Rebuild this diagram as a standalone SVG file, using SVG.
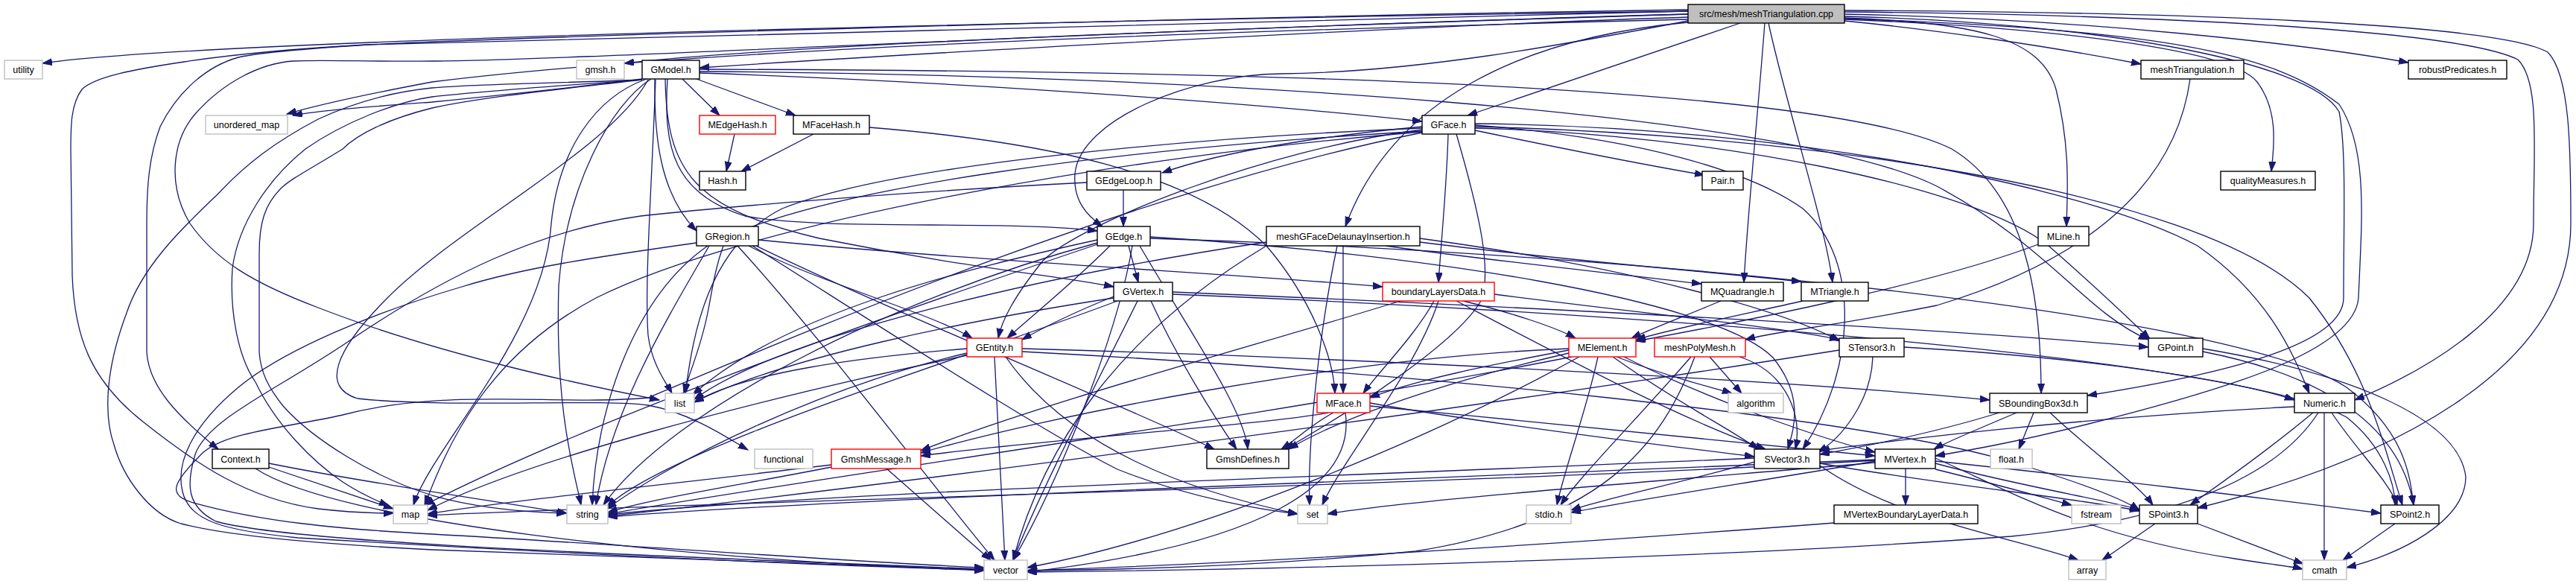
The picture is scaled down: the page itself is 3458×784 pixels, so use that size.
<svg xmlns="http://www.w3.org/2000/svg" width="3458" height="784" viewBox="0 0 3458 784">
<style>
.e{fill:none;stroke:#191970;stroke-width:1.3;marker-end:url(#ah)}
.n rect{fill:#fff;stroke:#000;stroke-width:1.4}
.x rect{fill:#fff;stroke:#bfbfbf;stroke-width:1.4}
.r rect{fill:#fff;stroke:#ff0000;stroke-width:1.4}
.root rect{fill:#bfbfbf;stroke:#000;stroke-width:1.4}
text{font-family:"Liberation Sans",Arial,sans-serif;font-size:12.5px;text-anchor:middle;fill:#000}
</style>
<defs>
<marker id="ah" markerUnits="userSpaceOnUse" markerWidth="14" markerHeight="10" refX="13" refY="4.5" orient="auto">
<path d="M0,0 L13,4.5 L0,9 Z" fill="#191970" stroke="#191970" stroke-width="1"/>
</marker>
</defs>
<rect width="3458" height="784" fill="#fff"/>
<g id="edges">
<path class="e" d="M2266,15 C1600,25 300,50 57,85"/>
<path class="e" d="M2266,19 C1900,30 1100,55 838,85"/>
<path class="e" d="M2266,23 C1900,35 1250,70 939,91"/>
<path class="e" d="M2266,26 C1500,45 900,70 580,110 C500,125 430,140 385,153"/>
<path class="e" d="M2266,15 C1500,30 800,50 493,60 C420,65 350,70 320,77 C280,88 240,120 215,170 C200,210 197,250 197,300 L197,473 C200,520 240,560 293,603"/>
<path class="e" d="M2266,19 C1500,40 800,80 580,82 C500,83 430,80 393,82 C350,85 300,110 262,153 C230,190 225,250 255,300 C290,350 340,380 427,413 C600,480 800,520 885,537"/>
<path class="e" d="M2266,13 C1500,25 700,50 493,60 C380,66 300,75 247,83 C180,93 127,103 110,120 C95,140 95,170 95,200 L97,370 C100,450 120,510 193,567 C260,620 330,670 427,683 C470,688 500,689 528,689"/>
<path class="e" d="M2266,28 C2100,60 1900,97 1720,99 C1600,100 1450,160 1443,233 C1440,270 1460,290 1480,304"/>
<path class="e" d="M2266,30 C2050,50 1870,130 1806,304"/>
<path class="e" d="M2336,31 L1970,155"/>
<path class="e" d="M2369,31 C2360,150 2345,300 2341,379"/>
<path class="e" d="M2374,31 C2400,150 2450,300 2460,379"/>
<path class="e" d="M2476,28 C2600,40 2750,62 2874,86"/>
<path class="e" d="M2476,19 C2800,25 3100,60 3233,84"/>
<path class="e" d="M2476,24 C2650,30 2740,50 2760,120 C2780,200 2775,260 2774,304"/>
<path class="e" d="M2476,26 C2700,35 2990,60 3030,110 C3060,150 3052,200 3049,230"/>
<path class="e" d="M2476,22 C2800,30 3100,80 3140,150 C3150,200 3146,300 3146,400 C3146,460 3000,500 2802,531"/>
<path class="e" d="M2476,16 C2900,20 3300,40 3380,80 C3410,110 3401,200 3401,300 C3401,420 3250,500 3161,537"/>
<path class="e" d="M2476,14 C2900,16 3350,30 3420,70 C3450,100 3451,200 3451,300 C3451,500 3200,620 2950,682"/>
<path class="e" d="M2476,25 C2900,40 3050,70 3140,140 C3180,200 3170,300 3166,400 C3160,470 3000,520 2800,570 C2700,595 2640,605 2598,612"/>
<path class="e" d="M862,106 C750,120 650,130 580,137 C500,143 430,148 393,155"/>
<path class="e" d="M916,106 L966,155"/>
<path class="e" d="M935,106 L1068,155"/>
<path class="e" d="M879,106 C878,180 885,260 935,310"/>
<path class="e" d="M896,106 C890,200 905,260 1000,290 C1100,310 1350,295 1473,310"/>
<path class="e" d="M893,106 C895,230 930,280 1100,320 C1300,360 1420,370 1495,385"/>
<path class="e" d="M939,98 C1300,110 1700,140 1909,163"/>
<path class="e" d="M868,106 C800,130 750,200 740,300 C730,450 580,600 555,678"/>
<path class="e" d="M874,106 C820,140 760,250 750,384 C745,550 770,630 780,678"/>
<path class="e" d="M862,107 C750,112 650,112 580,118 C520,124 470,140 427,160 C370,190 330,220 293,260 C240,310 190,360 170,420 C140,500 140,560 153,597 C165,640 200,690 243,703 C300,718 420,730 580,738 C900,752 1150,760 1321,765"/>
<path class="e" d="M862,107 C750,115 650,122 580,130 C530,137 460,165 410,200 C360,240 320,300 312,360 C308,420 320,480 343,513 C370,570 420,620 460,647 C480,660 500,670 522,679"/>
<path class="e" d="M862,107 C750,120 650,130 580,145 C520,160 480,180 460,200 C420,225 390,240 377,253 C355,275 348,300 348,340 L348,473 C350,500 360,520 380,545 C420,590 500,640 580,665 C650,685 720,688 760,689"/>
<path class="e" d="M880,107 C875,250 865,380 870,450 C875,490 895,515 902,528"/>
<path class="e" d="M939,96 C1600,100 2400,150 2600,250 C2750,330 2800,420 2884,456"/>
<path class="e" d="M939,93 C1700,95 2450,115 2620,200 C2720,260 2740,400 2740,528"/>
<path class="e" d="M870,107 C820,200 620,300 520,400 C450,470 430,520 480,535 C600,548 800,535 870,544 C930,555 980,590 1004,604"/>
<path class="e" d="M986,180 L975,230"/>
<path class="e" d="M1092,180 L995,230"/>
<path class="e" d="M1167,171 C1400,190 1600,230 1700,330 C1760,400 1790,480 1792,528"/>
<path class="e" d="M1909,170 C1800,180 1650,200 1560,232"/>
<path class="e" d="M1980,175 C2100,200 2200,220 2288,235"/>
<path class="e" d="M1944,180 C1942,250 1935,320 1931,379"/>
<path class="e" d="M1909,174 C1700,200 1450,300 1400,350 C1360,400 1345,430 1340,454"/>
<path class="e" d="M1909,172 C1600,185 1200,220 1050,280 C950,330 930,450 920,528"/>
<path class="e" d="M1909,176 C1500,200 1100,250 950,330 C850,400 800,550 795,678"/>
<path class="e" d="M1909,178 C1500,260 1000,480 870,534 C750,545 600,520 460,557 C380,575 300,580 270,610 C230,650 225,665 260,675 C350,700 450,710 580,717 C900,735 1150,755 1321,762"/>
<path class="e" d="M1909,177 C1500,210 1000,300 800,400 C650,480 600,600 570,678"/>
<path class="e" d="M1955,180 C1990,300 2000,360 1990,400 C1960,460 1800,560 1725,603"/>
<path class="e" d="M1980,172 C2300,180 2650,250 2750,330 C2830,400 2860,430 2886,455"/>
<path class="e" d="M1980,170 C2400,180 2950,250 3100,400 C3180,500 3200,600 3225,678"/>
<path class="e" d="M1980,168 C2200,185 2350,230 2420,280 C2500,350 2490,500 2420,603"/>
<path class="e" d="M1980,166 C2400,170 2800,250 2950,330 C3050,400 3080,480 3100,528"/>
<path class="e" d="M1508,255 L1508,304"/>
<path class="e" d="M1459,245 C1200,258 950,280 860,290 C720,310 600,370 480,450 C380,520 280,560 262,610 C250,650 250,680 290,700 C380,725 700,740 1321,764"/>
<path class="e" d="M1005,330 C1100,380 1250,420 1305,454"/>
<path class="e" d="M971,330 C960,360 957,384 950,420 C940,470 925,500 918,528"/>
<path class="e" d="M952,330 C900,420 820,550 800,678"/>
<path class="e" d="M935,326 C800,345 700,360 620,385 C500,420 380,470 320,520 C260,570 235,620 245,660 C255,700 300,712 400,722 C700,740 1100,760 1321,765"/>
<path class="e" d="M990,330 C1100,450 1250,650 1335,752"/>
<path class="e" d="M1018,322 C1300,350 1700,370 1856,385"/>
<path class="e" d="M1015,330 C1200,420 1500,540 1630,603"/>
<path class="e" d="M1010,330 C1200,450 1400,580 1500,630 C1600,670 1700,685 1742,690"/>
<path class="e" d="M1515,330 L1528,379"/>
<path class="e" d="M1490,330 C1440,380 1390,420 1352,454"/>
<path class="e" d="M1473,322 C1300,360 1050,420 930,530"/>
<path class="e" d="M1473,326 C1200,400 900,550 810,678"/>
<path class="e" d="M1530,330 C1600,450 1670,550 1675,603"/>
<path class="e" d="M1544,318 C1900,340 2300,400 2380,480 C2420,530 2410,570 2400,603"/>
<path class="e" d="M1544,320 C2200,340 3000,420 3150,520 C3230,580 3235,640 3240,678"/>
<path class="e" d="M1520,330 C1500,450 1420,650 1360,752"/>
<path class="e" d="M1473,328 C1200,420 800,560 570,678"/>
<path class="e" d="M1495,398 C1440,420 1400,440 1372,456"/>
<path class="e" d="M1495,400 C1300,430 1050,480 932,540"/>
<path class="e" d="M1545,404 C1580,480 1630,560 1660,603"/>
<path class="e" d="M1527,404 C1480,500 1400,650 1360,752"/>
<path class="e" d="M1574,392 C2000,410 2600,440 2884,466"/>
<path class="e" d="M1574,395 C2200,420 3000,480 3150,560 C3200,600 3215,650 3215,678"/>
<path class="e" d="M1500,404 C1300,480 900,600 815,680"/>
<path class="e" d="M1906,325 C2100,350 2300,365 2418,378"/>
<path class="e" d="M1860,330 C2000,350 2150,365 2284,381"/>
<path class="e" d="M1803,330 L1803,528"/>
<path class="e" d="M1795,330 C1770,450 1755,600 1758,678"/>
<path class="e" d="M1700,325 C1400,370 1050,450 932,536"/>
<path class="e" d="M1700,330 C1500,450 1400,600 1360,752"/>
<path class="e" d="M1906,320 C2200,360 2400,420 2470,458"/>
<path class="e" d="M1964,404 C2030,420 2090,440 2115,454"/>
<path class="e" d="M1925,404 C1900,450 1850,500 1830,528"/>
<path class="e" d="M1931,404 C1900,500 1800,620 1775,678"/>
<path class="e" d="M1955,404 C2100,480 2250,560 2370,603"/>
<path class="e" d="M2006,395 C2200,420 2400,440 2469,456"/>
<path class="e" d="M1880,404 C1700,460 1400,540 1236,605"/>
<path class="e" d="M2310,404 C2260,425 2220,440 2190,454"/>
<path class="e" d="M2420,404 C2350,420 2250,440 2196,456"/>
<path class="e" d="M2736,328 C2600,380 2350,430 2196,458"/>
<path class="e" d="M2940,106 C2920,250 2800,350 2600,410 C2450,440 2380,445 2343,456"/>
<path class="e" d="M1298,468 C1150,480 1000,500 932,540"/>
<path class="e" d="M1335,479 L1349,752"/>
<path class="e" d="M1372,468 C1800,480 2400,510 2671,537"/>
<path class="e" d="M1372,472 C1900,500 2500,560 2700,620 C2800,650 2850,670 2872,685"/>
<path class="e" d="M1298,474 C1100,520 900,620 815,683"/>
<path class="e" d="M1350,479 C1420,580 1550,650 1742,690"/>
<path class="e" d="M1298,477 C1000,540 700,620 574,685"/>
<path class="e" d="M1190,629 L1330,752"/>
<path class="e" d="M1116,624 C900,650 700,670 574,690"/>
<path class="e" d="M1116,627 C1000,650 870,670 816,688"/>
<path class="e" d="M361,627 C430,650 490,670 528,683"/>
<path class="e" d="M361,622 C500,650 650,670 761,689"/>
<path class="e" d="M343,629 C450,700 900,750 1321,766"/>
<path class="e" d="M2106,470 C2000,490 1900,510 1839,534"/>
<path class="e" d="M2145,479 C2130,550 2100,630 2090,678"/>
<path class="e" d="M2170,479 C2250,510 2300,520 2325,528"/>
<path class="e" d="M2180,479 C2300,540 2450,590 2517,607"/>
<path class="e" d="M2165,479 C2250,540 2330,580 2360,603"/>
<path class="e" d="M2106,468 C1800,480 1400,560 1236,608"/>
<path class="e" d="M2106,474 C1950,510 1800,560 1730,603"/>
<path class="e" d="M2110,479 C1700,560 1100,640 816,690"/>
<path class="e" d="M2120,479 C1900,600 1600,720 1379,762"/>
<path class="e" d="M2295,479 L2338,528"/>
<path class="e" d="M2335,479 C2400,500 2420,560 2410,603"/>
<path class="e" d="M2270,479 C2200,560 2120,640 2095,678"/>
<path class="e" d="M2275,479 C2230,600 2150,700 1900,740 C1700,760 1500,765 1379,766"/>
<path class="e" d="M2514,479 C2512,540 2470,590 2440,607"/>
<path class="e" d="M2556,466 C2800,480 3000,510 3080,537"/>
<path class="e" d="M2469,470 C1900,560 1200,650 816,693"/>
<path class="e" d="M1839,545 C2100,570 2400,600 2517,612"/>
<path class="e" d="M1839,541 C2000,570 2250,600 2355,613"/>
<path class="e" d="M1806,554 C1820,650 1700,730 1379,768"/>
<path class="e" d="M1783,554 C1700,570 1400,590 1236,612"/>
<path class="e" d="M1790,554 C1760,570 1740,590 1720,603"/>
<path class="e" d="M2730,554 L2710,603"/>
<path class="e" d="M2752,554 C2800,600 2870,650 2890,678"/>
<path class="e" d="M2684,554 C2600,580 2500,600 2443,610"/>
<path class="e" d="M2707,554 C2670,570 2620,590 2596,603"/>
<path class="e" d="M3120,554 L3120,752"/>
<path class="e" d="M3130,554 C3160,600 3210,650 3218,678"/>
<path class="e" d="M3105,554 C3050,600 2980,650 2940,678"/>
<path class="e" d="M3080,546 C2800,560 2550,590 2443,605"/>
<path class="e" d="M3112,554 C3050,650 2900,700 2700,720 C2300,750 1700,765 1379,768"/>
<path class="e" d="M2957,468 C3150,500 3300,560 3310,640 C3310,700 3220,745 3150,762"/>
<path class="e" d="M2957,472 C3100,500 3220,560 3240,678"/>
<path class="e" d="M2443,622 C2600,650 2800,670 2872,686"/>
<path class="e" d="M2355,620 C2250,650 2150,670 2109,685"/>
<path class="e" d="M2355,615 C1800,640 1100,660 816,691"/>
<path class="e" d="M2443,625 C2550,700 2700,720 2790,752"/>
<path class="e" d="M2558,629 L2558,678"/>
<path class="e" d="M2598,622 C2700,650 2820,670 2872,684"/>
<path class="e" d="M2598,619 C2800,640 3050,670 3196,689"/>
<path class="e" d="M2598,630 C2680,650 2750,670 2781,678"/>
<path class="e" d="M2598,615 C2700,660 2800,720 3000,750 C3050,758 3080,761 3091,764"/>
<path class="e" d="M2517,621 C2300,640 1900,670 1782,690"/>
<path class="e" d="M2517,619 C2400,640 2200,670 2109,688"/>
<path class="e" d="M2517,618 C2000,650 900,675 574,692"/>
<path class="e" d="M2517,617 C2000,640 1100,670 816,694"/>
<path class="e" d="M2462,702 C2100,730 1700,755 1379,766"/>
<path class="e" d="M2893,703 L2822,752"/>
<path class="e" d="M2950,703 L3092,757"/>
<path class="e" d="M3215,703 L3145,752"/>
</g>
<g id="root" class="root"><rect x="2266" y="6" width="210" height="25"/><text x="2371" y="23">src/mesh/meshTriangulation.cpp</text></g>
<g id="utility" class="x"><rect x="6" y="81" width="51" height="25"/><text x="31.5" y="98">utility</text></g>
<g id="gmsh_h" class="x"><rect x="774" y="81" width="64" height="25"/><text x="806" y="98">gmsh.h</text></g>
<g id="GModel_h" class="n"><rect x="862" y="81" width="77" height="25"/><text x="900.5" y="98">GModel.h</text></g>
<g id="meshTriangulation_h" class="n"><rect x="2874" y="81" width="138" height="25"/><text x="2943" y="98">meshTriangulation.h</text></g>
<g id="robustPredicates_h" class="n"><rect x="3233" y="81" width="132" height="25"/><text x="3299" y="98">robustPredicates.h</text></g>
<g id="unordered_map" class="x"><rect x="276" y="155" width="110" height="25"/><text x="331" y="172">unordered_map</text></g>
<g id="MEdgeHash_h" class="r"><rect x="939" y="155" width="102" height="25"/><text x="990" y="172">MEdgeHash.h</text></g>
<g id="MFaceHash_h" class="n"><rect x="1065" y="155" width="102" height="25"/><text x="1116" y="172">MFaceHash.h</text></g>
<g id="GFace_h" class="n"><rect x="1909" y="155" width="71" height="25"/><text x="1944.5" y="172">GFace.h</text></g>
<g id="Hash_h" class="n"><rect x="939" y="230" width="62" height="25"/><text x="970" y="247">Hash.h</text></g>
<g id="GEdgeLoop_h" class="n"><rect x="1459" y="230" width="99" height="25"/><text x="1508.5" y="247">GEdgeLoop.h</text></g>
<g id="Pair_h" class="n"><rect x="2285" y="230" width="55" height="25"/><text x="2312.5" y="247">Pair.h</text></g>
<g id="qualityMeasures_h" class="n"><rect x="2981" y="230" width="127" height="25"/><text x="3044.5" y="247">qualityMeasures.h</text></g>
<g id="GRegion_h" class="n"><rect x="935" y="304" width="83" height="26"/><text x="976.5" y="322">GRegion.h</text></g>
<g id="GEdge_h" class="n"><rect x="1473" y="304" width="71" height="26"/><text x="1508.5" y="322">GEdge.h</text></g>
<g id="meshGFaceDelaunayInsertion_h" class="n"><rect x="1700" y="304" width="206" height="26"/><text x="1803" y="322">meshGFaceDelaunayInsertion.h</text></g>
<g id="MLine_h" class="n"><rect x="2736" y="304" width="68" height="26"/><text x="2770" y="322">MLine.h</text></g>
<g id="GVertex_h" class="n"><rect x="1495" y="379" width="79" height="25"/><text x="1534.5" y="396">GVertex.h</text></g>
<g id="boundaryLayersData_h" class="r"><rect x="1856" y="379" width="150" height="25"/><text x="1931" y="396">boundaryLayersData.h</text></g>
<g id="MQuadrangle_h" class="n"><rect x="2284" y="379" width="110" height="25"/><text x="2339" y="396">MQuadrangle.h</text></g>
<g id="MTriangle_h" class="n"><rect x="2418" y="379" width="90" height="25"/><text x="2463" y="396">MTriangle.h</text></g>
<g id="GEntity_h" class="r"><rect x="1298" y="454" width="74" height="25"/><text x="1335" y="471">GEntity.h</text></g>
<g id="MElement_h" class="r"><rect x="2106" y="454" width="90" height="25"/><text x="2151" y="471">MElement.h</text></g>
<g id="meshPolyMesh_h" class="r"><rect x="2221" y="454" width="122" height="25"/><text x="2282" y="471">meshPolyMesh.h</text></g>
<g id="STensor3_h" class="n"><rect x="2469" y="454" width="87" height="25"/><text x="2512.5" y="471">STensor3.h</text></g>
<g id="GPoint_h" class="n"><rect x="2884" y="454" width="73" height="25"/><text x="2920.5" y="471">GPoint.h</text></g>
<g id="list" class="x"><rect x="893" y="528" width="39" height="26"/><text x="912.5" y="546">list</text></g>
<g id="MFace_h" class="r"><rect x="1768" y="528" width="71" height="26"/><text x="1803.5" y="546">MFace.h</text></g>
<g id="algorithm" class="x"><rect x="2320" y="528" width="74" height="26"/><text x="2357" y="546">algorithm</text></g>
<g id="SBoundingBox3d_h" class="n"><rect x="2671" y="528" width="131" height="26"/><text x="2736.5" y="546">SBoundingBox3d.h</text></g>
<g id="Numeric_h" class="n"><rect x="3080" y="528" width="81" height="26"/><text x="3120.5" y="546">Numeric.h</text></g>
<g id="Context_h" class="n"><rect x="285" y="603" width="76" height="26"/><text x="323" y="621">Context.h</text></g>
<g id="functional" class="x"><rect x="1013" y="603" width="78" height="26"/><text x="1052" y="621">functional</text></g>
<g id="GmshMessage_h" class="r"><rect x="1116" y="603" width="120" height="26"/><text x="1176" y="621">GmshMessage.h</text></g>
<g id="GmshDefines_h" class="n"><rect x="1620" y="603" width="110" height="26"/><text x="1675" y="621">GmshDefines.h</text></g>
<g id="SVector3_h" class="n"><rect x="2355" y="603" width="88" height="26"/><text x="2399" y="621">SVector3.h</text></g>
<g id="MVertex_h" class="n"><rect x="2517" y="603" width="81" height="26"/><text x="2557.5" y="621">MVertex.h</text></g>
<g id="float_h" class="x"><rect x="2672" y="603" width="56" height="26"/><text x="2700" y="621">float.h</text></g>
<g id="map" class="x"><rect x="528" y="678" width="46" height="25"/><text x="551" y="695">map</text></g>
<g id="string" class="x"><rect x="761" y="678" width="55" height="25"/><text x="788.5" y="695">string</text></g>
<g id="set" class="x"><rect x="1742" y="678" width="40" height="25"/><text x="1762" y="695">set</text></g>
<g id="stdio_h" class="x"><rect x="2049" y="678" width="60" height="25"/><text x="2079" y="695">stdio.h</text></g>
<g id="MVertexBoundaryLayerData_h" class="n"><rect x="2462" y="678" width="193" height="25"/><text x="2558.5" y="695">MVertexBoundaryLayerData.h</text></g>
<g id="fstream" class="x"><rect x="2781" y="678" width="66" height="25"/><text x="2814" y="695">fstream</text></g>
<g id="SPoint3_h" class="n"><rect x="2872" y="678" width="78" height="25"/><text x="2911" y="695">SPoint3.h</text></g>
<g id="SPoint2_h" class="n"><rect x="3196" y="678" width="78" height="25"/><text x="3235" y="695">SPoint2.h</text></g>
<g id="vector" class="x"><rect x="1321" y="752" width="58" height="26"/><text x="1350" y="770">vector</text></g>
<g id="array" class="x"><rect x="2777" y="752" width="50" height="26"/><text x="2802" y="770">array</text></g>
<g id="cmath" class="x"><rect x="3091" y="752" width="59" height="26"/><text x="3120.5" y="770">cmath</text></g>
</svg>
